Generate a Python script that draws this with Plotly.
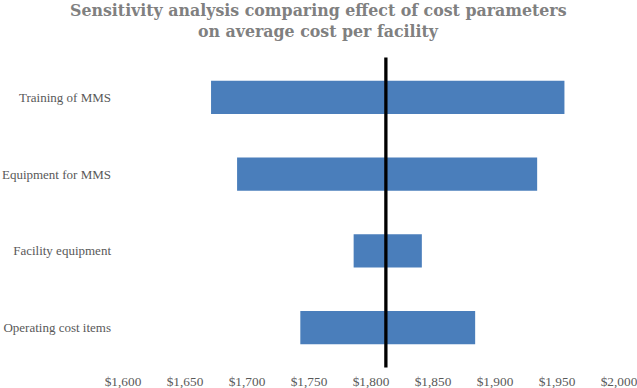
import plotly.graph_objects as go

categories = ["Training of MMS", "Equipment for MMS", "Facility equipment", "Operating cost items"]
low_values = [1671, 1692, 1786, 1743]
high_values = [1956, 1934, 1841, 1884]
baseline_cost = 1812
tick_values = [1600, 1650, 1700, 1750, 1800, 1850, 1900, 1950, 2000]
tick_labels = ["$1,600", "$1,650", "$1,700", "$1,750", "$1,800", "$1,850", "$1,900", "$1,950", "$2,000"]
title_lines = ["Sensitivity analysis comparing effect of cost parameters",
               "on average cost per facility"]

fig = go.Figure()
fig.add_trace(go.Bar(
    orientation="h",
    y=categories,
    x=[h - l for h, l in zip(high_values, low_values)],
    base=low_values,
    marker=dict(color="#4A7EBB", line=dict(width=0)),
    showlegend=False,
    hoverinfo="skip",
))

fig.add_shape(type="line", xref="x", yref="paper",
              x0=baseline_cost, x1=baseline_cost, y0=-0.005, y1=1.005,
              line=dict(color="black", width=3.3))

serif = "Liberation Serif"
title_font = "DejaVu Serif"
title_shifts = [48.5, 27.5]
fig.update_layout(
    width=637, height=388,
    margin=dict(l=123, r=18, t=59, b=22, autoexpand=False),
    paper_bgcolor="white", plot_bgcolor="white",
    bargap=0.57,
    annotations=[dict(text="<b>" + line + "</b>", xref="paper", yref="paper",
                      x=0.395, y=1.0, xanchor="center", yanchor="middle", yshift=s,
                      showarrow=False, align="center",
                      font=dict(family=title_font, size=15.8, color="#808080"))
                 for line, s in zip(title_lines, title_shifts)],
    xaxis=dict(range=[1600, 2000], tickvals=tick_values, ticktext=tick_labels,
               showgrid=False, zeroline=False, showline=False, ticks="",
               automargin=False, ticklabelstandoff=6, ticklabeloverflow="allow",
               tickfont=dict(family=serif, size=13.3, color="#595959")),
    yaxis=dict(categoryorder="array", categoryarray=categories, autorange="reversed",
               showgrid=False, zeroline=False, showline=False, ticks="",
               automargin=False, ticklabelstandoff=11, ticklabeloverflow="allow",
               tickfont=dict(family=serif, size=13, color="#595959")),
)

fig.write_html("out.html", config={"displayModeBar": False},
               post_script="document.body.style.margin='0';")
